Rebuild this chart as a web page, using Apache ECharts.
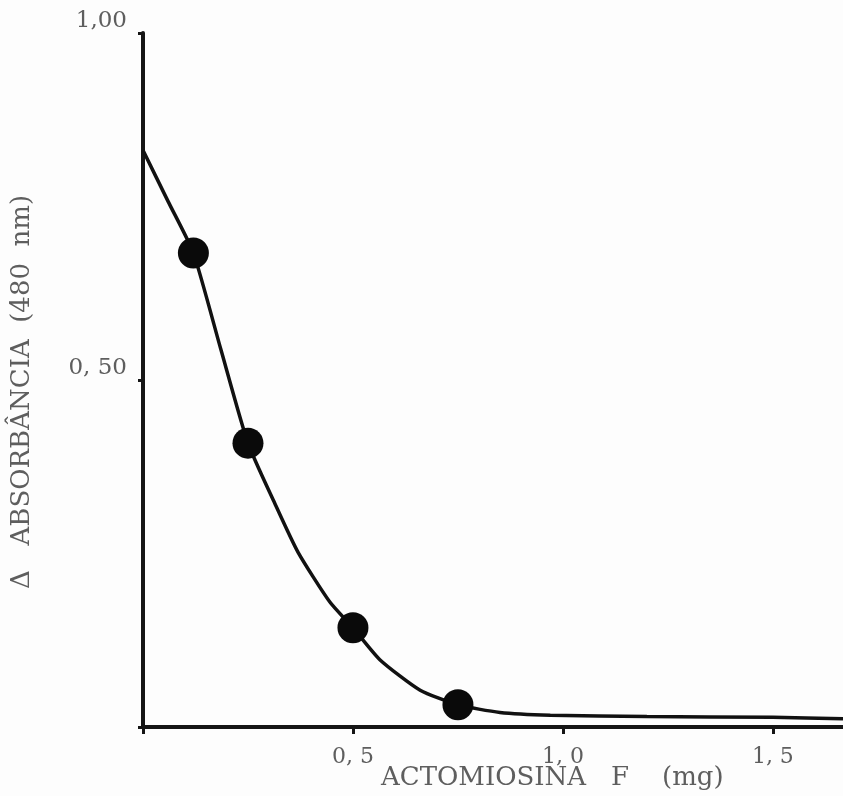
<!DOCTYPE html>
<html>
<head>
<meta charset="utf-8">
<script src="https://cdn.jsdelivr.net/npm/echarts@6/dist/echarts.min.js"></script>
<style>
html,body{margin:0;padding:0;background:#fdfdfd;}
#c{width:843px;height:796px;}
</style>
</head>
<body>
<div id="c"></div>
<script>
// measured points
const pointX = [0.12, 0.25, 0.5, 0.75];
const pointY = [0.683, 0.409, 0.143, 0.032];
// fitted curve
const curveX = [0, 0.06, 0.12, 0.185, 0.25, 0.314, 0.369, 0.445, 0.5, 0.564, 0.66, 0.75, 0.85, 0.97, 1.2, 1.5, 1.667];
const curveY = [0.831, 0.757, 0.683, 0.545, 0.409, 0.322, 0.252, 0.18, 0.143, 0.097, 0.053, 0.032, 0.021, 0.017, 0.015, 0.014, 0.012];
// tick labels
const xTickLabels = {"0.5": "0, 5", "1": "1, 0", "1.5": "1, 5"};
const yTickLabels = {"0.5": "0, 50", "1": "1,00"};
const xTitle = "ACTOMIOSINA   F    (mg)";
const yTitle = "Δ   ABSORBÂNCIA  (480  nm)";

const chart = echarts.init(document.getElementById('c'));
const font = '"DejaVu Serif", "Liberation Serif", serif';
chart.setOption({
  backgroundColor: '#fdfdfd',
  animation: false,
  grid: {left: 143, right: 0, top: 33, bottom: 69, containLabel: false},
  xAxis: {
    type: 'value', min: 0, max: 1.667, interval: 0.5,
    splitLine: {show: false},
    axisLine: {show: true, onZero: false, lineStyle: {color: '#151515', width: 4}},
    axisTick: {show: true, length: 7, lineStyle: {color: '#151515', width: 3}},
    axisLabel: {
      margin: 19, fontFamily: font, fontSize: 22, color: '#5e5e5e',
      showMaxLabel: false,
      formatter: v => xTickLabels[String(v)] || ''
    }
  },
  yAxis: {
    type: 'value', min: 0, max: 1, interval: 0.5,
    splitLine: {show: false},
    axisLine: {show: true, onZero: false, lineStyle: {color: '#151515', width: 4}},
    axisTick: {show: true, length: 5, lineStyle: {color: '#151515', width: 3}},
    axisLabel: {
      margin: 16, fontFamily: font, fontSize: 23, color: '#5e5e5e',
      verticalAlign: 'bottom',
      formatter: v => yTickLabels[String(v)] || ''
    }
  },
  graphic: [
    {type: 'text', left: 381, top: 765,
     style: {text: xTitle, font: '26px ' + font, fill: '#5e5e5e'}},
    {type: 'text', x: 22, y: 392, rotation: Math.PI / 2,
     style: {text: yTitle, font: '26px ' + font, fill: '#5e5e5e', textAlign: 'center', textVerticalAlign: 'middle'}}
  ],
  series: [
    {
      type: 'line', smooth: 0.2, symbol: 'none',
      data: curveX.map((x, i) => [x, curveY[i]]),
      lineStyle: {color: '#111', width: 3.5},
      z: 2
    },
    {
      type: 'scatter', symbol: 'circle', symbolSize: 31,
      data: pointX.map((x, i) => [x, pointY[i]]),
      itemStyle: {color: '#0a0a0a', opacity: 1},
      z: 3
    }
  ]
});
</script>
</body>
</html>
